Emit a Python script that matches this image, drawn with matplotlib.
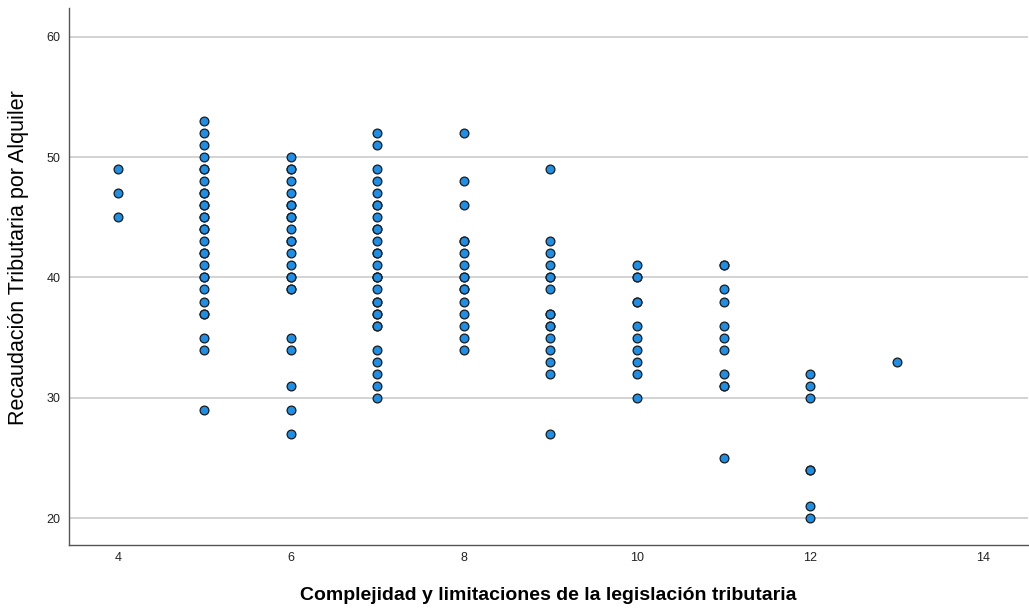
import numpy as np
import matplotlib.pyplot as plt

plt.rcParams['font.family'] = ['Liberation Sans', 'DejaVu Sans']

# wartosci Y dla kazdej kategorii X (powtorzenia = punkty nakladajace sie)
y4 = [49, 47, 45]
y5 = [53, 52, 51, 50, 49, 49, 48, 47, 47, 46, 46, 45, 45, 44, 44, 43, 42, 42, 41, 40, 40, 39, 38, 37, 37, 35, 34, 29]
y6 = [50, 49, 49, 48, 47, 46, 46, 45, 45, 44, 43, 43, 42, 41, 40, 40, 39, 39, 35, 34, 31, 29, 27]
y7 = [52, 51, 49, 48, 47, 46, 46, 45, 44, 44, 43, 42, 42, 41, 40, 40, 40, 39, 38, 38, 37, 37, 36, 36, 34, 33, 32, 31, 30]
y8 = [52, 48, 46, 43, 43, 42, 41, 40, 40, 39, 39, 38, 37, 36, 35, 34]
y9 = [49, 43, 42, 41, 40, 40, 39, 37, 37, 36, 36, 35, 34, 33, 32, 27]
y10 = [41, 40, 40, 38, 38, 36, 35, 34, 33, 32, 30]
y11 = [41, 41, 39, 38, 36, 35, 34, 32, 31, 31, 25]
y12 = [32, 31, 30, 24, 24, 21, 20]
y13 = [33]

kategorie = [4, 5, 6, 7, 8, 9, 10, 11, 12, 13]
serie = [y4, y5, y6, y7, y8, y9, y10, y11, y12, y13]

x = np.concatenate([[k] * len(s) for k, s in zip(kategorie, serie)])
y = np.concatenate(serie)

fig = plt.figure(figsize=(10.29, 6.10), dpi=100)
ax = fig.add_axes([69 / 1029, 65 / 610, (1028 - 69) / 1029, (545 - 8) / 610])

ax.scatter(x, y, s=40, c='#1E8FE6', edgecolors='#1a1a1a', linewidths=0.9, zorder=3)

ax.set_xlim(3.434, 14.52)
ax.set_ylim(17.76, 62.4)
ax.set_xticks([4, 6, 8, 10, 12, 14])
ax.set_yticks([20, 30, 40, 50, 60])
ax.yaxis.grid(True, color='#c8c8c8', linewidth=1.1)
ax.set_axisbelow(True)
ax.tick_params(length=0, labelsize=9, colors='#222222', pad=6)
ax.tick_params(axis='x', pad=5)

for k in ['top', 'right']:
    ax.spines[k].set_visible(False)
for k in ['left', 'bottom']:
    ax.spines[k].set_color('#555555')
    ax.spines[k].set_linewidth(1.0)

# tytuly osi
fig.text(548 / 1029, 1 - 596 / 610, 'Complejidad y limitaciones de la legislación tributaria',
         fontsize=14, fontweight='bold', ha='center', va='center')
fig.text(19 / 1029, 1 - 258 / 610, 'Recaudación Tributaria por Alquiler',
         fontsize=15.5, rotation=90, ha='center', va='center')

fig.savefig('out.png', dpi=100)
